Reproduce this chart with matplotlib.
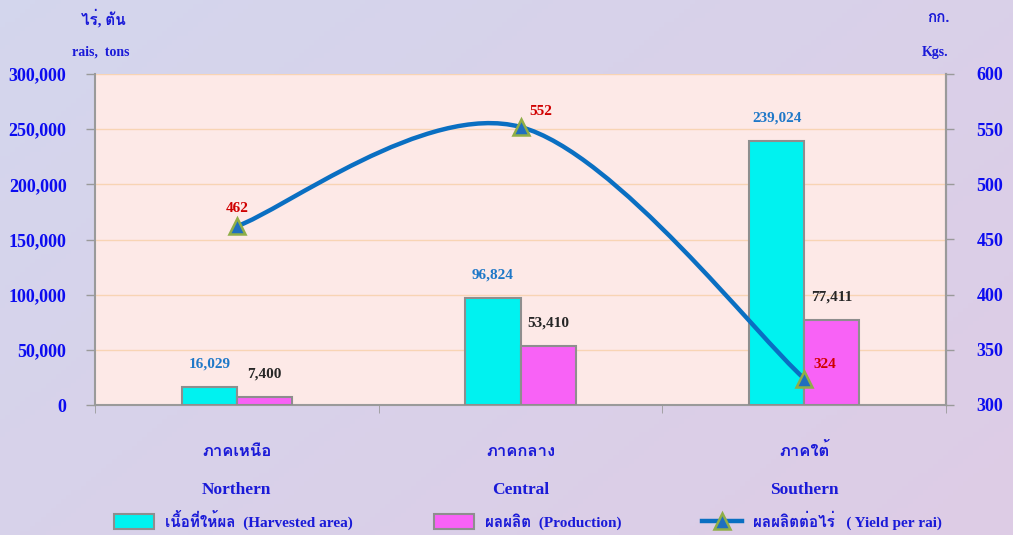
import matplotlib
matplotlib.use('Agg')
import matplotlib.pyplot as plt
from matplotlib import font_manager as fm
from matplotlib.ft2font import FT2Font
from matplotlib.path import Path
from matplotlib.patches import PathPatch, Patch
from matplotlib.lines import Line2D
import matplotlib.transforms as mtransforms
import numpy as np

# ---------------- data ----------------
regions_th = ['ภาคเหนือ', 'ภาคกลาง', 'ภาคใต้']
regions_en = ['Northern', 'Central', 'Southern']
harvested = [16029, 96824, 239024]
production = [7400, 53410, 77411]
yield_per_rai = [462, 552, 324]
left_ticks = [0, 50000, 100000, 150000, 200000, 250000, 300000]
right_ticks = [300, 350, 400, 450, 500, 550, 600]
legend_labels = ['เนื้อที่ให้ผล  (Harvested area)', 'ผลผลิต  (Production)',
                 'ผลผลิตต่อไร่   ( Yield per rai)']

# ---------------- fonts ----------------
def find_thai_font():
    best = None
    for f in fm.fontManager.ttflist:
        try:
            cm = FT2Font(f.fname).get_charmap()
        except Exception:
            continue
        if 0x0E20 in cm and 0x0E2D in cm:
            if best is None:
                best = f.name
            if str(f.weight) in ('bold', '700'):
                return f.name
    return best

thai = find_thai_font()
SERIF = ['Liberation Serif'] + ([thai] if thai else []) + ['DejaVu Sans']
plt.rcParams['font.family'] = SERIF
plt.rcParams['font.weight'] = 'bold'

BLUE = '#1a1ad8'
TICKBLUE = '#0c0cf0'
W, H = 1013, 535
fig = plt.figure(figsize=(W / 100, H / 100), dpi=100)

# background gradient
bg = fig.add_axes([0, 0, 1, 1], zorder=-10)
gx = np.linspace(0, 1, 200)
gy = np.linspace(0, 1, 120)
GX, GY = np.meshgrid(gx, gy)
c1 = np.array([0.83, 0.84, 0.93])
c2 = np.array([0.87, 0.80, 0.90])
t = (0.6 * GX + 0.4 * GY)[..., None]
img = c1 * (1 - t) + c2 * t
bg.imshow(img, aspect='auto', extent=[0, 1, 0, 1], origin='upper')
bg.axis('off')

L, R, T, B = 95, 946, 74, 405
ax = fig.add_axes([L / W, 1 - B / H, (R - L) / W, (B - T) / H])
ax.set_facecolor('#fde9e7')

x = np.arange(len(regions_en))
w = 0.194
b1 = ax.bar(x - w / 2, harvested, width=w, color='#00f2f0', edgecolor='#8e8e8e',
            linewidth=1.5, zorder=3)
b2 = ax.bar(x + w / 2, production, width=w, color='#f862f6', edgecolor='#8e8e8e',
            linewidth=1.5, zorder=3)

ax.set_xlim(-0.5, 2.5)
ax.set_ylim(0, 300000)
ax.set_yticks(left_ticks)
ax.set_yticklabels([f'{v:,}' for v in left_ticks])
ax.yaxis.grid(True, color='#f8d4b4', linewidth=1.0, zorder=0)
ax.set_axisbelow(True)
ax.tick_params(axis='y', colors='#9a9a9a', length=6.5, width=1, pad=14,
               labelcolor=TICKBLUE, labelsize=13)
ax.set_xticks([])
ax.set_xticks([-0.5, 0.5, 1.5, 2.5], minor=True)
ax.tick_params(axis='x', which='minor', length=6, color='#9a9a9a', labelbottom=False)
for s in ['left', 'bottom', 'right']:
    ax.spines[s].set_color('#9a9a9a')
    ax.spines[s].set_linewidth(1.5)
ax.spines['top'].set_visible(False)

for xi, v in zip(x, harvested):
    ax.annotate(f'{v:,}', (xi - w / 2, v), xytext=(0, 16.5), textcoords='offset points',
                ha='center', va='center', color='#1f78c8', fontsize=11, fontweight='bold')
for xi, v in zip(x, production):
    ax.annotate(f'{v:,}', (xi + w / 2, v), xytext=(0, 16.5), textcoords='offset points',
                ha='center', va='center', color='#262626', fontsize=11, fontweight='bold')

# category labels
trans = mtransforms.blended_transform_factory(ax.transData, fig.transFigure)
for xi, th, en in zip(x, regions_th, regions_en):
    fig.text(xi, 1 - 452 / H, th, transform=trans, ha='center', va='center',
             color=BLUE, fontsize=12, fontweight='bold')
    fig.text(xi, 1 - 490 / H, en, transform=trans, ha='center', va='center',
             color=BLUE, fontsize=12.5, fontweight='bold')

# secondary axis
ax2 = ax.twinx()
ax2.set_ylim(300, 600)
ax2.set_yticks(right_ticks)
ax2.tick_params(axis='y', colors='#9a9a9a', length=6, width=1, pad=16,
                labelcolor=TICKBLUE, labelsize=13)
ax2.patch.set_visible(False)
for s in ['left', 'bottom', 'top']:
    ax2.spines[s].set_visible(False)
ax2.spines['right'].set_color('#9a9a9a')
ax2.spines['right'].set_linewidth(1.5)

# smooth (Excel-like) bezier line through yield points
P = np.column_stack([x, yield_per_rai]).astype(float)
n = len(P)
verts = [P[0]]
codes = [Path.MOVETO]
for i in range(n - 1):
    p_prev = P[max(i - 1, 0)]
    p_next2 = P[min(i + 2, n - 1)]
    c1p = P[i] + (P[i + 1] - p_prev) / 6
    c2p = P[i + 1] - (p_next2 - P[i]) / 6
    verts += [c1p, c2p, P[i + 1]]
    codes += [Path.CURVE4] * 3
ax2.add_patch(PathPatch(Path(verts, codes), facecolor='none', edgecolor='#0a6fc2',
                        linewidth=3.2, zorder=5, capstyle='round'))
ax2.plot(x, yield_per_rai, linestyle='none', marker='^', markersize=11,
         markerfacecolor='#1f6fbf', markeredgecolor='#8fae48', markeredgewidth=1.8,
         zorder=6)
offs = [(0, 12.5), (14.5, 11), (15, 10)]
for xi, v, o in zip(x, yield_per_rai, offs):
    ax2.annotate(f'{v}', (xi, v), xytext=o, textcoords='offset points',
                 ha='center', va='center', color='#d00000', fontsize=11, fontweight='bold')

# axis titles
fig.text(103 / W, 1 - 18 / H, 'ไร่, ตัน', ha='center', va='center', color=BLUE,
         fontsize=11, fontweight='bold')
fig.text(101 / W, 1 - 52 / H, 'rais,  tons', ha='center', va='center', color=BLUE,
         fontsize=10, fontweight='bold')
fig.text(938 / W, 1 - 18 / H, 'กก.', ha='center', va='center', color=BLUE,
         fontsize=11, fontweight='bold')
fig.text(935 / W, 1 - 52 / H, 'Kgs.', ha='center', va='center', color=BLUE,
         fontsize=10, fontweight='bold')

# legend
handles = [Patch(facecolor='#00f2f0', edgecolor='#8e8e8e', linewidth=1.5),
           Patch(facecolor='#f862f6', edgecolor='#8e8e8e', linewidth=1.5),
           Line2D([0], [0], color='#0a6fc2', linewidth=3.2, marker='^', markersize=11,
                  markerfacecolor='#1f6fbf', markeredgecolor='#8fae48', markeredgewidth=1.8)]
leg = fig.legend(handles, legend_labels, loc='center', bbox_to_anchor=(528 / W, 1 - 520 / H),
                 ncol=3, frameon=False, fontsize=11, handlelength=2.6, handleheight=1.1,
                 handletextpad=0.72, columnspacing=5.3, borderpad=0)
for txt in leg.get_texts():
    txt.set_color(BLUE)
    txt.set_fontweight('bold')

fig.savefig('out.png', dpi=100)
